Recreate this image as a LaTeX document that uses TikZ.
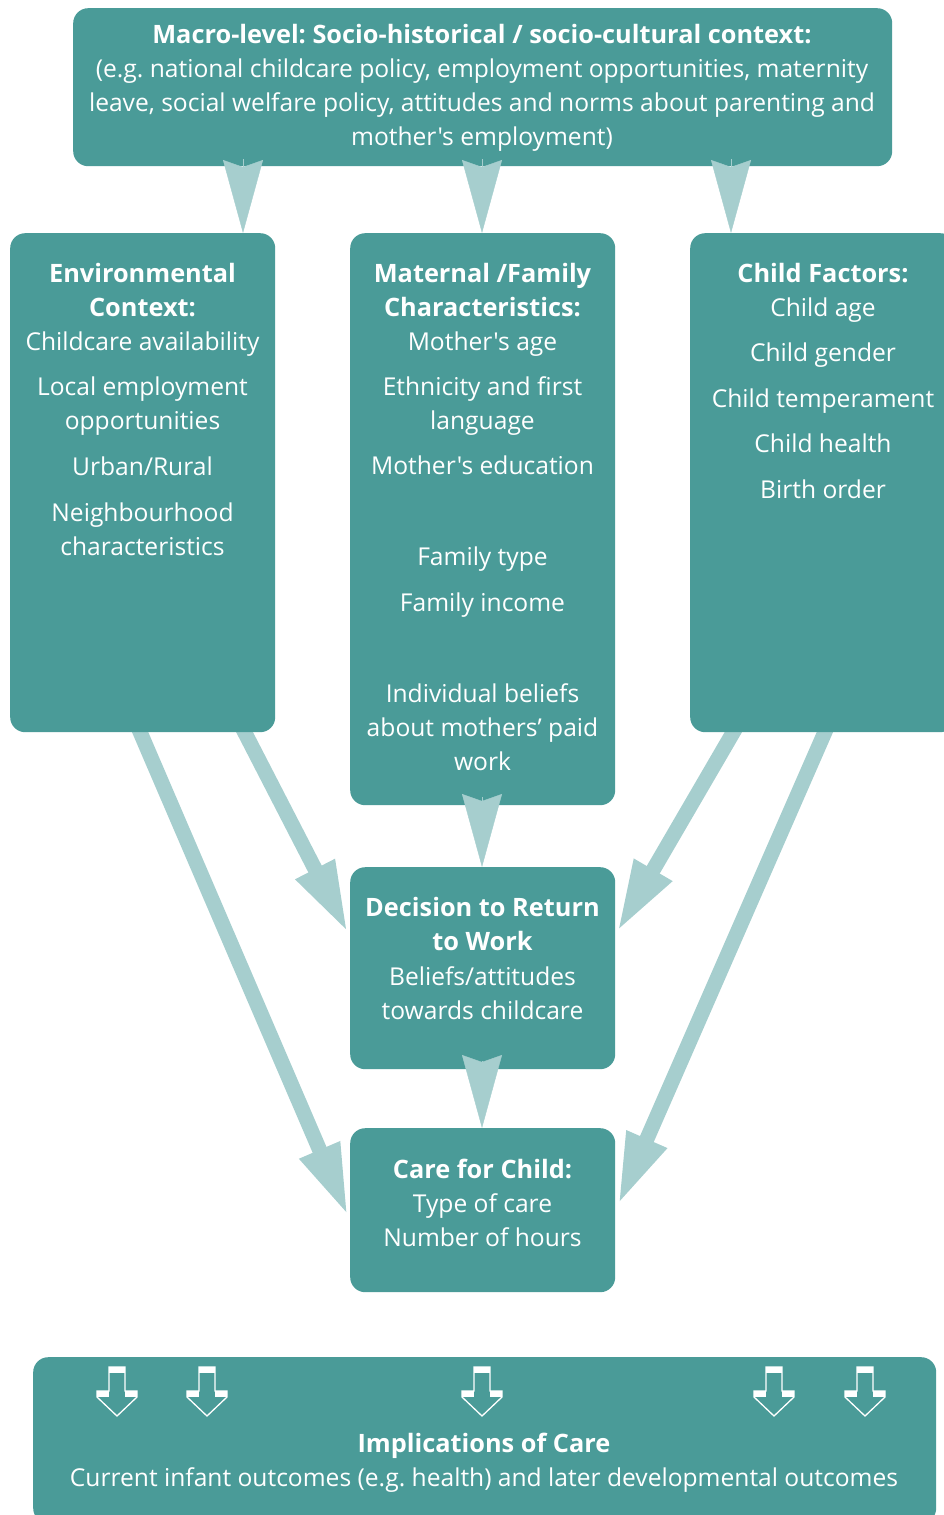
\documentclass[tikz,border=0pt]{standalone}
\usepackage{fontspec}
\setmainfont{Open Sans}[Ligatures=TeXOff, BoldFeatures={Scale=1.03}]
\usetikzlibrary{arrows.meta}
\definecolor{boxteal}{HTML}{4A9B98}
\definecolor{arrowteal}{HTML}{A6CECE}
\frenchspacing

\tikzset{
  panel/.style={fill=boxteal, rounded corners=15pt, anchor=north west, inner sep=0pt},
  label/.style={text=white, align=center, anchor=north, inner sep=0pt,
    font=\fontsize{24.6}{34}\selectfont},
  dart/.style={arrowteal, line width=0.4pt,
    -{Stealth[length=73pt 0 0, width=40pt 0 0, inset=7pt 0 0]}},
  flow/.style={arrowteal, line width=15pt,
    -{Triangle[length=72pt 0 0, width=40pt 0 0]}},
  downmark/.pic={
    \fill[white] (-8,0) rectangle (8,5.5);
    \fill[white] (-20,24) rectangle (-8,30);
    \fill[white] (8,24) rectangle (20,30);
    \draw[white, line width=1.3pt, line join=miter]
      (-8,0) -- (8,0) -- (8,24) -- (20,24) -- (20,30) -- (0,49)
      -- (-20,30) -- (-20,24) -- (-8,24) -- cycle;
  }
}

\begin{document}
\begin{tikzpicture}[x=1pt, y=-1pt]
\useasboundingbox (0,0) rectangle (944,1515);
\clip (0,0) rectangle (944,1515);

% start points of the long diagonal connectors (hidden under the boxes)
\coordinate (envA) at (238.3,720);
\coordinate (envB) at (134.9,720);
\coordinate (chdA) at (740.4,720);
\coordinate (chdB) at (830.2,720);
% tips of the long diagonal connectors
\coordinate (decL) at (348,933);
\coordinate (carL) at (348,1216);
\coordinate (decR) at (617,932);
\coordinate (carR) at (618,1205);

\draw[flow] (envA) -- (decL);
\draw[flow] (envB) -- (carL);
\draw[flow] (chdA) -- (decR);
\draw[flow] (chdB) -- (carR);

% boxes
\node[panel, minimum width=819pt, minimum height=158pt] (macro) at (73,8) {};
\node[panel, minimum width=265pt, minimum height=499pt] (env) at (10,233) {};
\node[panel, minimum width=265pt, minimum height=572pt] (mat) at (350,233) {};
\node[panel, minimum width=265pt, minimum height=499pt] (child) at (690,233) {};
\node[panel, minimum width=265pt, minimum height=202pt] (dec) at (350,867) {};
\node[panel, minimum width=265pt, minimum height=164pt] (care) at (350,1128) {};
\node[panel, minimum width=903pt, minimum height=166pt] (impl) at (33,1357) {};

% box texts
\node[label] (macroT) at (482,24) {{\bfseries Macro-level: Socio-historical / socio-cultural context:}\\
(e.g. national childcare policy, employment opportunities, maternity\\
leave, social welfare policy, attitudes and norms about parenting and\\
mother's employment)};

\node[label] (envT) at (142.5,263) {{\bfseries Environmental}\\{\bfseries Context:}\\
Childcare availability\\[11.5pt]
Local employment\\opportunities\\[11.5pt]
Urban/Rural\\[12pt]
Neighbourhood\\characteristics};

\node[label] (matT) at (482.5,263) {{\bfseries Maternal /Family}\\{\bfseries Characteristics:}\\
Mother's age\\[11pt]
Ethnicity and first\\language\\[11.5pt]
Mother's education\\[57pt]
Family type\\[12pt]
Family income\\[57pt]
Individual beliefs\\about mothers’ paid\\work};

\node[label] (childT) at (823,263) {{\bfseries Child Factors:}\\
Child age\\[11pt]
Child gender\\[12pt]
Child temperament\\[11pt]
Child health\\[12pt]
Birth order};

\node[label] (decT) at (482.5,897.5) {{\bfseries Decision to Return}\\{\bfseries to Work}\\[1pt]
Beliefs/attitudes\\towards childcare};

\node[label] (careT) at (482.5,1159) {{\bfseries Care for Child:}\\
Type of care\\Number of hours};

\node[label] (implT) at (484,1433) {{\bfseries Implications of Care}\\
Current infant outcomes (e.g. health) and later developmental outcomes};

% short connectors between stacked boxes
\coordinate (m2e) at (243,159);
\coordinate (m2m) at (482,159);
\coordinate (m2c) at (731,159);
\coordinate (mat2d) at (482,797);
\coordinate (d2c) at (482,1061);

\draw[dart] (m2e) -- (m2e |- env.north);
\draw[dart] (m2m) -- (m2m |- mat.north);
\draw[dart] (m2c) -- (m2c |- child.north);
\draw[dart] (mat2d) -- (mat2d |- dec.north);
\draw[dart] (d2c) -- (d2c |- care.north);

% outlined down marks along the top of the bottom box
\foreach \cx in {117,207,482,774,865}
  \pic at (\cx,1367) {downmark};
\end{tikzpicture}
\end{document}
